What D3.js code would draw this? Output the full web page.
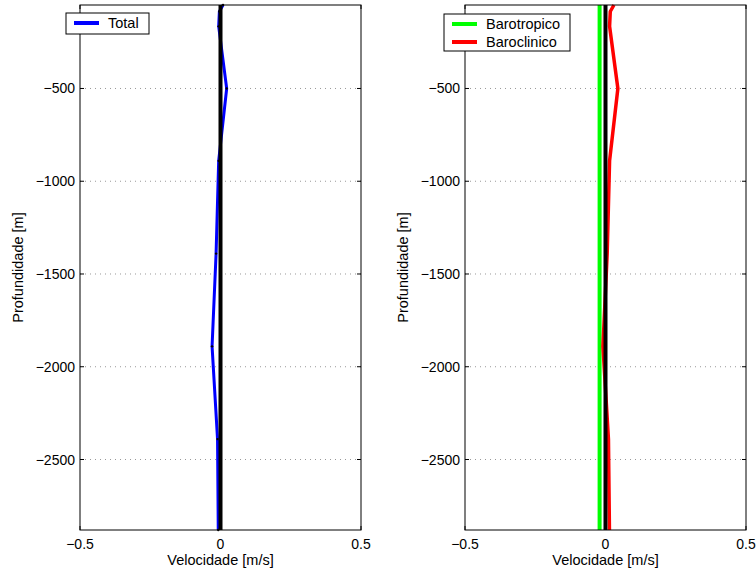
<!doctype html>
<html>
<head>
<meta charset="utf-8">
<script src="https://cdn.jsdelivr.net/npm/d3@7"></script>
<style>
  body { margin: 0; background: #fff; }
  text { font-family: "Liberation Sans", Arial, sans-serif; fill: #000; }
</style>
</head>
<body>
<div id="chart"></div>
<script>
// profundidades dos pontos [m]
var depth = [-50, -85, -165, -500, -890, -1390, -1890, -2390, -2880];
// velocidades [m/s]
var total = [0.009, -0.004, -0.0065, 0.022, -0.0065, -0.0157, -0.030, -0.0105, -0.008];
var barotropico = [-0.021, -0.021, -0.021, -0.021, -0.021, -0.021, -0.021, -0.021, -0.021];
var baroclinico = [0.030, 0.017, 0.0145, 0.044, 0.0145, 0.006, -0.009, 0.0105, 0.014];
var referencia = [0, 0, 0, 0, 0, 0, 0, 0, 0];
var xTicks = [-0.5, 0, 0.5];
var yTicks = [-2500, -2000, -1500, -1000, -500];

var W = 756, H = 574;
var svg = d3.select("#chart").append("svg").attr("width", W).attr("height", H);

function fmt(v) { return String(v).replace("-", "\u2212"); }

function panel(left, series, legendItems, legendBox) {
  var top = 5, w = 281, h = 525;
  var x = d3.scaleLinear().domain([-0.5, 0.5]).range([0, w]);
  var y = d3.scaleLinear().domain([-2880, -50]).range([h, 0]);
  var g = svg.append("g").attr("transform", "translate(" + left + "," + top + ")");

  // grid
  g.selectAll(".grid").data(yTicks).enter().append("line")
    .attr("x1", 0).attr("x2", w)
    .attr("y1", function (d) { return y(d); }).attr("y2", function (d) { return y(d); })
    .style("stroke", "#999").style("stroke-width", 1).style("stroke-dasharray", "1,4");

  // ticks (inside, MATLAB style)
  yTicks.forEach(function (t) {
    g.append("line").attr("x1", 0).attr("x2", 4).attr("y1", y(t)).attr("y2", y(t)).style("stroke", "#000");
    g.append("line").attr("x1", w).attr("x2", w - 4).attr("y1", y(t)).attr("y2", y(t)).style("stroke", "#000");
    g.append("text").attr("x", -5).attr("y", y(t) + 5).attr("text-anchor", "end")
      .style("font-size", "14px").text(fmt(t));
  });
  xTicks.forEach(function (t) {
    g.append("line").attr("x1", x(t)).attr("x2", x(t)).attr("y1", h).attr("y2", h - 4).style("stroke", "#000");
    g.append("line").attr("x1", x(t)).attr("x2", x(t)).attr("y1", 0).attr("y2", 4).style("stroke", "#000");
    g.append("text").attr("x", x(t)).attr("y", h + 19).attr("text-anchor", "middle")
      .style("font-size", "14px").text(fmt(t));
  });

  // lines
  var line = function (vals) {
    return d3.line().x(function (d, i) { return x(vals[i]); }).y(function (d) { return y(d); })(depth);
  };
  series.forEach(function (s) {
    g.append("path").attr("d", line(s.values)).style("fill", "none")
      .style("stroke", s.color).style("stroke-width", s.width).style("stroke-linejoin", "round");
    if (s.dots) {
      g.selectAll(null).data(depth).enter().append("circle")
        .attr("cx", function (d, i) { return x(s.values[i]); })
        .attr("cy", function (d) { return y(d); })
        .attr("r", 1.2).style("fill", "#000");
    }
  });

  // frame
  g.append("rect").attr("width", w).attr("height", h)
    .style("fill", "none").style("stroke", "#000").style("stroke-width", 1);

  // labels
  g.append("text").attr("x", w / 2).attr("y", h + 35).attr("text-anchor", "middle")
    .style("font-size", "14.5px").text("Velocidade [m/s]");
  g.append("text").attr("transform", "translate(-57," + (h / 2) + ") rotate(-90)")
    .attr("text-anchor", "middle").style("font-size", "14.5px").text("Profundidade [m]");

  // legend
  var lg = svg.append("g").attr("transform", "translate(" + legendBox[0] + "," + legendBox[1] + ")");
  lg.append("rect").attr("width", legendBox[2]).attr("height", legendBox[3])
    .style("fill", "#fff").style("stroke", "#000");
  legendItems.forEach(function (it, i) {
    var yy = 10 + i * 18;
    lg.append("line").attr("x1", 8).attr("x2", 33).attr("y1", yy).attr("y2", yy)
      .style("stroke", it.color).style("stroke-width", 4);
    lg.append("text").attr("x", 42).attr("y", yy + 5).style("font-size", "14.5px").text(it.name);
  });
}

panel(80,
  [{ values: total, color: "#0000ff", width: 3, dots: true },
   { values: referencia, color: "#000", width: 4 }],
  [{ name: "Total", color: "#0000ff" }],
  [66, 13, 83, 21]);

panel(465,
  [{ values: barotropico, color: "#00ff00", width: 4 },
   { values: baroclinico, color: "#ff0000", width: 3.5 },
   { values: referencia, color: "#000", width: 4 }],
  [{ name: "Barotropico", color: "#00ff00" }, { name: "Baroclinico", color: "#ff0000" }],
  [444, 14, 126, 37]);
</script>
</body>
</html>
